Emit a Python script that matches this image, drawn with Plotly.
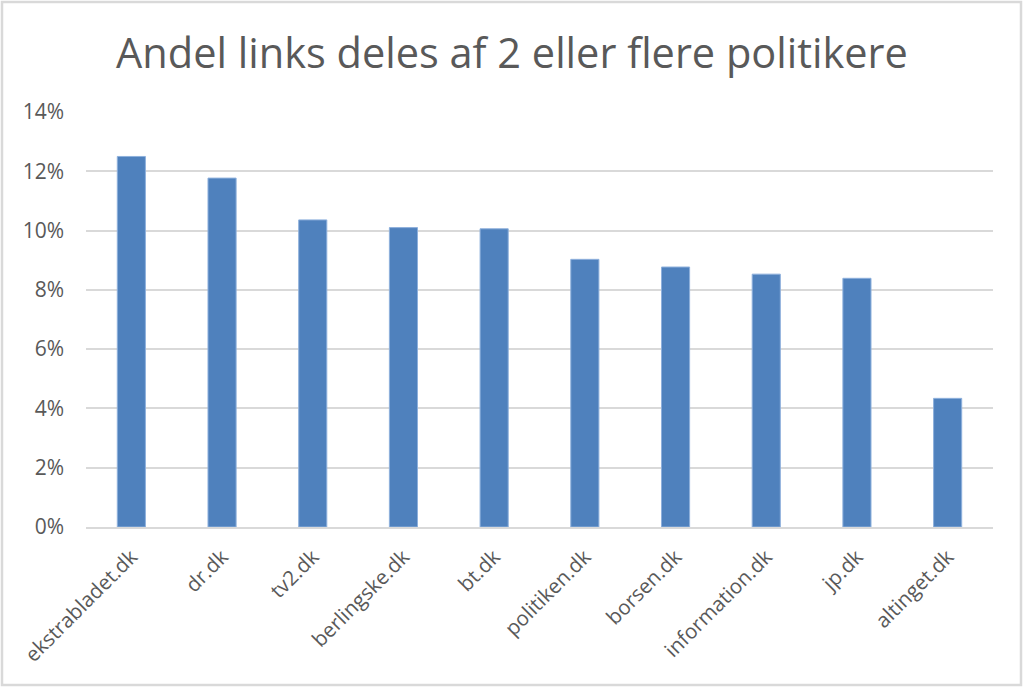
import plotly.graph_objects as go

categories = ["ekstrabladet.dk", "dr.dk", "tv2.dk", "berlingske.dk", "bt.dk",
              "politiken.dk", "borsen.dk", "information.dk", "jp.dk", "altinget.dk"]
values = [0.125, 0.1177, 0.1036, 0.1010, 0.1006, 0.0903, 0.0877, 0.0853, 0.0839, 0.0434]
y_ticks = [0, 0.02, 0.04, 0.06, 0.08, 0.10, 0.12, 0.14]
y_ticklabels = ["0%", "2%", "4%", "6%", "8%", "10%", "12%", "14%"]
title_text = "Andel links deles af 2 eller flere politikere"

fig = go.Figure()
fig.add_trace(go.Bar(
    x=categories, y=values,
    marker=dict(color="#4F81BD", line=dict(color="#8EB0DC", width=1)),
    hoverinfo="x+y",
))

fig.update_layout(
    width=1024, height=688,
    margin=dict(l=86, r=31, t=112, b=161),
    paper_bgcolor="white", plot_bgcolor="white",
    bargap=0.69,
    showlegend=False,
    font=dict(family="Open Sans", color="#595959"),
    title=dict(text=title_text, x=0.5, xanchor="center", y=0.922, yanchor="middle",
               font=dict(family="Open Sans", size=41.5, color="#595959")),
    xaxis=dict(tickangle=-45, tickfont=dict(size=20.5, color="#595959"),
               showgrid=False, showline=True, linecolor="#D9D9D9", linewidth=1.5,
               ticks="", ticklen=0, ticklabelstandoff=8),
    yaxis=dict(range=[0, 0.14], tickvals=y_ticks, ticktext=y_ticklabels,
               tickfont=dict(size=21, color="#595959"),
               showgrid=True, gridcolor="#D9D9D9", gridwidth=1.5,
               zeroline=False, showline=False, ticks="", ticklabelstandoff=21),
    shapes=[dict(type="rect", xref="paper", yref="paper",
                 x0=-84/907, x1=1 + 28/907, y0=-158/415, y1=1 + 110/415,
                 line=dict(color="#D9D9D9", width=2.5), fillcolor="rgba(0,0,0,0)", layer="below")],
)

fig.write_html("out.html", config={"displayModeBar": False},
               post_script="document.body.style.margin='0';document.body.style.overflow='hidden';")
